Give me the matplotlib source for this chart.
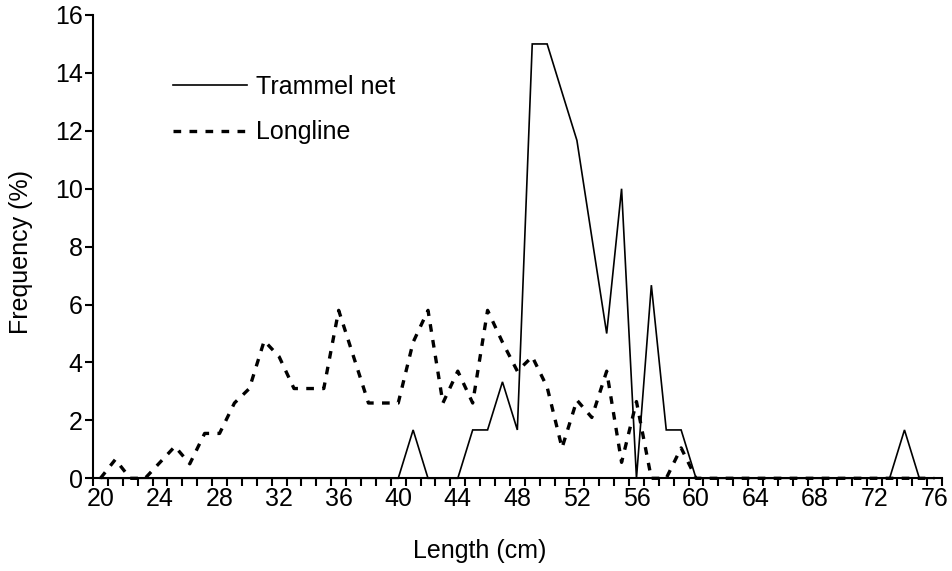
import matplotlib
matplotlib.use("Agg")
import matplotlib.pyplot as plt
import numpy as np

plt.rcParams['font.family'] = ['Liberation Sans', 'DejaVu Sans']

lengths = list(range(20, 77))
trammel_net = [0, 0, 0, 0, 0, 0, 0, 0, 0, 0,        # 20-29
               0, 0, 0, 0, 0, 0, 0, 0, 0, 0,        # 30-39
               0, 1.67, 0, 0, 0, 1.67, 1.67, 3.33, 1.67, 15,   # 40-49
               15, 13.33, 11.67, 8.33, 5, 10, 0, 6.67, 1.67, 1.67,  # 50-59
               0, 0, 0, 0, 0, 0, 0, 0, 0, 0,        # 60-69
               0, 0, 0, 0, 1.67, 0, 0]              # 70-76
longline = [0, 0.65, 0, 0, 0.55, 1.1, 0.5, 1.55, 1.55, 2.6,      # 20-29
            3.1, 4.75, 4.2, 3.1, 3.1, 3.1, 5.8, 4.2, 2.6, 2.6,   # 30-39
            2.6, 4.7, 5.8, 2.6, 3.7, 2.6, 5.8, 4.7, 3.7, 4.2,    # 40-49
            3.15, 1.05, 2.7, 2.1, 3.7, 0.55, 2.65, 0, 0, 1.05,   # 50-59
            0, 0, 0, 0, 0, 0, 0, 0, 0, 0,                        # 60-69
            0, 0, 0, 0, 0, 0, 0]                                 # 70-76
tick_labels = [str(v) for v in range(20, 77, 4)]
y_ticks = list(range(0, 17, 2))

FS = 18

fig = plt.figure(figsize=(9.53, 5.71), dpi=100)
ax = fig.add_axes([93/953, 1-478.3/571, (941.7-93)/953, (478.3-15)/571])

idx = np.arange(len(lengths))
ax.plot(idx, trammel_net, color='black', lw=1.2, solid_joinstyle='miter',
        label='Trammel net', clip_on=False, zorder=3)
ax.plot(idx, longline, color='black', lw=2.4, dashes=(2.3, 2.5),
        dash_capstyle='butt', label='Longline', clip_on=False, zorder=3)

ax.set_xlim(-0.5, len(lengths) - 0.5)
ax.set_ylim(0, 16)
ax.set_yticks(y_ticks)
ax.set_yticklabels([str(v) for v in y_ticks])
major = [lengths.index(int(t)) for t in tick_labels]
ax.set_xticks(major)
ax.set_xticklabels(tick_labels)
ax.set_xticks(np.arange(-0.5, len(lengths), 1.0), minor=True)
ax.tick_params(axis='x', which='major', length=0, pad=6, labelsize=FS)
ax.tick_params(axis='x', which='minor', length=5.5, width=1.5, direction='out')
ax.tick_params(axis='y', length=5.5, width=1.5, direction='out', labelsize=FS, pad=2)

for s in ['top', 'right']:
    ax.spines[s].set_visible(False)
for s in ['left', 'bottom']:
    ax.spines[s].set_linewidth(1.5)

ax.set_xlabel('Length (cm)', fontsize=FS)
ax.set_ylabel('Frequency (%)', fontsize=FS)
ax.xaxis.set_label_coords((480-93)/848.7, (478.3-539)/463.3)
ax.yaxis.set_label_coords((33-93)/848.7, (478.3-252)/463.3)

ax.legend(loc='upper left', bbox_to_anchor=((163-93)/848.7, (478.3-65)/463.3),
          frameon=False, fontsize=FS, handlelength=2.95, handletextpad=0.35,
          labelspacing=0.85, borderaxespad=0)

fig.savefig('out.png', dpi=100)
